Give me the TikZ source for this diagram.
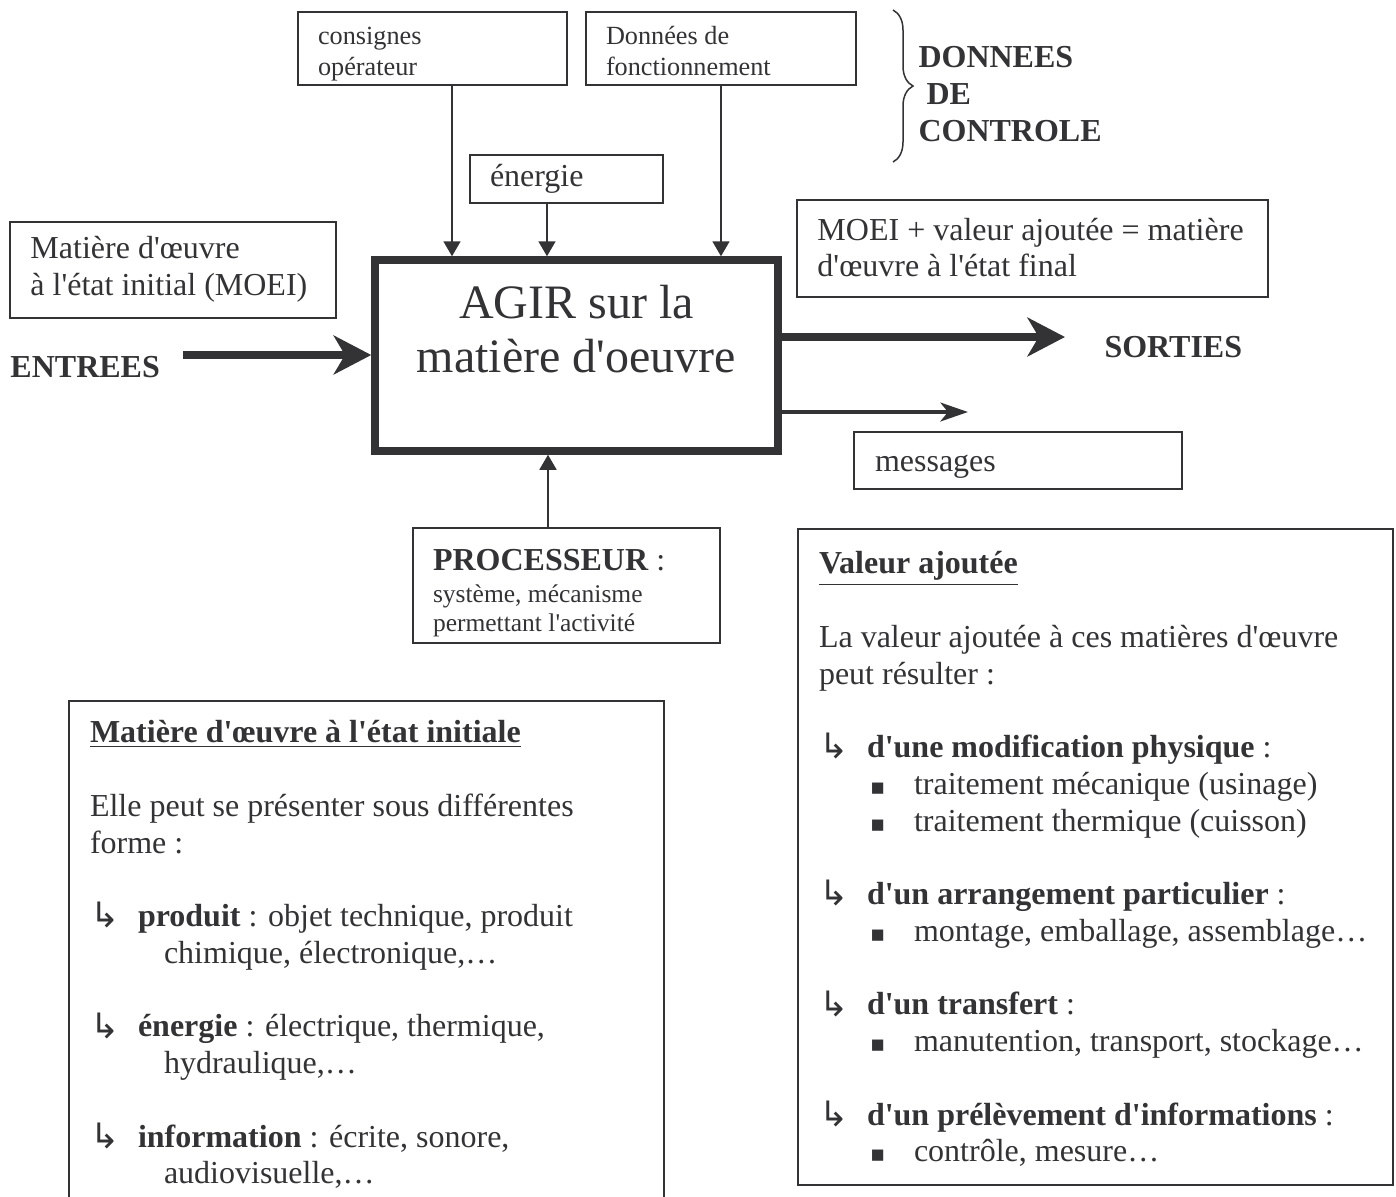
\documentclass[tikz,border=0pt]{standalone}
\usepackage{fontspec}
\setmainfont{Liberation Serif}[Ligatures=TeXOff]
\newfontfamily\symfont{DejaVu Sans}
\usetikzlibrary{arrows.meta,decorations.pathreplacing}
\definecolor{ink}{HTML}{333336}
\newcommand{\itemarrow}{\makebox[19.2pt][l]{\raisebox{-0.5pt}{\symfont\fontsize{14}{14}\selectfont ↳}}}
\newcommand{\itemsquare}{\hspace*{20.4pt}\makebox[17.6pt][l]{{\symfont\fontsize{9}{9}\selectfont ▪}}}

\begin{document}
\begin{tikzpicture}[
        x=0.4pt, y=-0.4pt,
        box/.style={
            draw=ink,
            text=ink,
            line width=0.8pt,
            align=flush left,
            inner xsep=8pt,
            inner ysep=0pt
        },
        smallbox/.style={box, font=\fontsize{10.5}{12.4}\selectfont},
        plainbox/.style={box, font=\fontsize{12.8}{14.6}\selectfont},
        panel/.style={
            draw=ink,
            text=ink,
            line width=0.8pt,
            anchor=north west,
            inner xsep=8.4pt,
            font=\fontsize{12.8}{14.7}\selectfont
        },
        mainbox/.style={draw=ink, line width=3pt, minimum width=161.2pt, minimum height=76.4pt},
        bigtext/.style={text=ink, align=center, inner sep=0pt, font=\fontsize{19.2}{21.6}\selectfont},
        tag/.style={text=ink, inner sep=0pt, align=flush left, font=\fontsize{12.8}{14.9}\selectfont\bfseries},
        ctrl/.style={-{Triangle[length=6pt,width=6.8pt]}, line width=0.7pt, draw=ink},
        flow/.style={-{Stealth[length=15pt,width=15.5pt,inset=4.5pt]}, line width=3.2pt, draw=ink},
        msgflow/.style={-{Stealth[length=11pt,width=7.5pt,inset=3pt]}, line width=1.6pt, draw=ink}
    ]
        \useasboundingbox (0,0) rectangle (1396,1196);

        % control data
        \node[smallbox, minimum width=107.6pt, minimum height=29.2pt, text width=91.6pt] (consignes) at (432.5,48.5) {\rule{0pt}{13pt}consignes\\opérateur\strut};
        \node[smallbox, minimum width=108pt, minimum height=29.2pt, text width=92pt] (donnees) at (721,48.5) {\rule{0pt}{13pt}Données de\\fonctionnement\strut};
        \node[tag, anchor=west] (controle) at (918,94) {DONNEES\\\hspace*{3.2pt}DE\\CONTROLE};
        \draw[draw=ink, line width=0.6pt, decorate, decoration={brace, amplitude=8pt}] (893,10) -- (893,162);
        \node[plainbox, minimum width=77.2pt, minimum height=19.2pt, text width=61.2pt] (energie) at (566.5,179) {\strut énergie};

        % main activity
        \node[mainbox] (agir) at (576.5,355.5) {};
        \node[bigtext, anchor=north] (agirtext) at ([yshift=-11.2pt]agir.north) {AGIR sur la\\matière d'oeuvre};

        \node[plainbox, minimum width=130.4pt, minimum height=38.4pt, text width=114pt, inner xsep=8.2pt] (moei) at (173,269.5) {\strut Matière d'œuvre\\à l'état initial (MOEI)\strut};
        \node[plainbox, minimum width=188.4pt, minimum height=38.8pt, text width=172pt, inner xsep=8.2pt] (moeif) at (1032.5,248.5) {\rule{0pt}{12.4pt}\mbox{MOEI + valeur ajoutée = matière}\\d'œuvre à l'état final\strut};
        \node[plainbox, minimum width=131.2pt, minimum height=22.8pt, text width=114.4pt, inner xsep=8.4pt] (messages) at (1018,460.5) {\rule{0pt}{13pt}messages\strut};
        \node[box, font=\fontsize{10.2}{11.6}\selectfont, minimum width=122.8pt, minimum height=46pt, text width=106.8pt] (processeur) at (566.5,585.5) {\rule{0pt}{16pt}{\fontsize{12.8}{14.6}\selectfont\textbf{PROCESSEUR} :}\\[1pt]système, mécanisme\\permettant l'activité\strut};

        \node[tag, anchor=base west] (entrees) at (10,377) {ENTREES};
        \node[tag, anchor=base west] (sorties) at (1104,357) {SORTIES};
        \coordinate (inlet) at (183,355);
        \coordinate (outlet) at (1065,337);
        \coordinate (msgtip) at (968,412);

        \draw[ctrl] ([xshift=7.8pt]consignes.south) -- ([xshift=7.8pt]consignes.south |- agir.north);
        \draw[ctrl] ([xshift=-7.8pt]energie.south) -- ([xshift=-7.8pt]energie.south |- agir.north);
        \draw[ctrl] (donnees.south) -- (donnees.south |- agir.north);
        \draw[ctrl] ([xshift=-7.4pt]processeur.north) -- ([xshift=-7.4pt]processeur.north |- agir.south);
        \draw[flow] (inlet) -- (inlet -| agir.west);
        \draw[flow] (outlet -| agir.east) -- (outlet);
        \draw[msgflow] (msgtip -| agir.east) -- (msgtip);

        % explanations
        \node[panel, inner ysep=6.5pt] (initial) at (68,700) {\parbox[t][200pt][t]{221.2pt}{%
            \strut\textbf{\underline{Matière d'œuvre à l'état initiale}}\\[14.7pt]
            Elle peut se présenter sous différentes\\
            forme :\\[14.7pt]
            \itemarrow\textbf{produit} : objet technique, produit\\
            \hspace*{29.6pt}chimique, électronique,…\\[14.7pt]
            \itemarrow\textbf{énergie} : électrique, thermique,\\
            \hspace*{29.6pt}hydraulique,…\\[14.7pt]
            \itemarrow\textbf{information} : écrite, sonore,\\
            \hspace*{29.6pt}audiovisuelle,…}};
        \node[panel, inner ysep=7.7pt] (ajoutee) at (797,528) {\parbox[t][247pt][t]{221.2pt}{%
            \strut\textbf{\underline{Valeur ajoutée}}\\[14.7pt]
            La valeur ajoutée à ces matières d'œuvre\\
            peut résulter :\\[14.7pt]
            \itemarrow\textbf{d'une modification physique} :\\
            \itemsquare traitement mécanique (usinage)\\
            \itemsquare traitement thermique (cuisson)\\[14.7pt]
            \itemarrow\textbf{d'un arrangement particulier} :\\
            \itemsquare montage, emballage, assemblage…\\[14.7pt]
            \itemarrow\textbf{d'un transfert} :\\
            \itemsquare manutention, transport, stockage…\\[14.7pt]
            \itemarrow\textbf{d'un prélèvement d'informations} :\\
            \itemsquare contrôle, mesure…}};
    \end{tikzpicture}
\end{document}
